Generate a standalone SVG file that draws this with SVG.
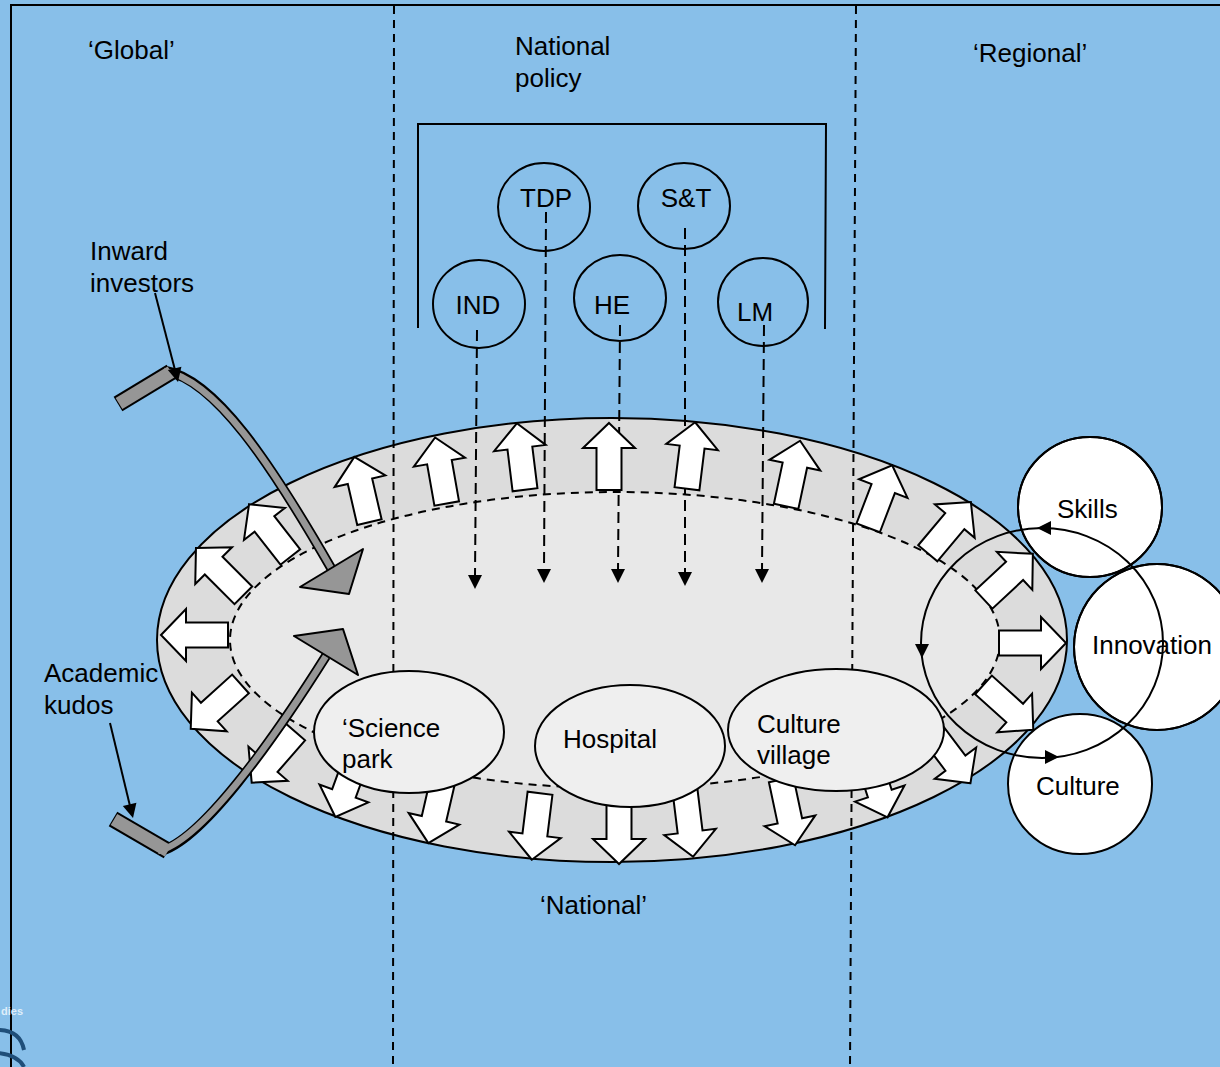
<svg xmlns="http://www.w3.org/2000/svg" xmlns:xlink="http://www.w3.org/1999/xlink" width="1220" height="1067" viewBox="0 0 1220 1067">
<style>
.t{font-family:"Liberation Sans",Arial,sans-serif;font-size:26px;fill:#000}
.ln{fill:none;stroke:#000;stroke-width:2}
.dsh{fill:none;stroke:#000;stroke-width:2;stroke-dasharray:8 6}
.pol{fill:none;stroke:#000;stroke-width:2;stroke-dasharray:11 6}
.blk{fill:#fff;stroke:#000;stroke-width:2;stroke-linejoin:miter}
.node{fill:#efefef;stroke:#000;stroke-width:2}
.wc{fill:#fff;stroke:#000;stroke-width:2}
.ah{fill:#000}
.gray{fill:#969696;stroke:#000;stroke-width:2;stroke-linejoin:round}
</style>
<defs>
<path id="blkarrow" d="M0,-34 L26,-9 L12.5,-9 L12.5,33 L-12.5,33 L-12.5,-9 L-26,-9 Z"/>
<path id="tri" d="M0,0 L-7,-14 L7,-14 Z"/>
</defs>
<rect x="0" y="0" width="1220" height="1067" fill="#88bfe9"/>
<path class="ln" d="M11,1067 L11,5 L1220,5"/>
<g id="watermark">
<text x="1" y="1015" style="font-family:'Liberation Sans',Arial,sans-serif;font-size:11px;font-weight:bold;fill:#dfeefa">dies</text>
<path d="M-2,1030 Q20,1030 24,1050" fill="none" stroke="#1f4e79" stroke-width="4"/>
<path d="M-2,1053 Q18,1055 24,1067" fill="none" stroke="#1f4e79" stroke-width="4"/>
</g>
<g id="ring">
<ellipse cx="612" cy="640" rx="455" ry="222" fill="#dcdcdc" stroke="#000" stroke-width="2"/>
<ellipse cx="615" cy="640" rx="385" ry="148" fill="#e8e8e8" stroke="#000" stroke-width="2" stroke-dasharray="8 6"/>
</g>
<g id="regions">
<line class="dsh" x1="394" y1="6" x2="393" y2="1067"/>
<line class="dsh" x1="856" y1="6" x2="850" y2="1067"/>
<path class="ln" d="M418,328 L418,124 L826,124 L825,329"/>
</g>
<g id="labels">
<text class="t" x="88" y="59">‘Global’</text>
<text class="t" x="515" y="55">National</text>
<text class="t" x="515" y="87">policy</text>
<text class="t" x="973" y="62">‘Regional’</text>
<text class="t" x="90" y="260">Inward</text>
<text class="t" x="90" y="292">investors</text>
<text class="t" x="44" y="682">Academic</text>
<text class="t" x="44" y="714">kudos</text>
<text class="t" x="540" y="914">‘National’</text>
</g>
<g id="policy-nodes">
<g id="TDP"><ellipse class="ln" cx="544" cy="207" rx="46" ry="44"/><text class="t" x="546" y="207" text-anchor="middle">TDP</text></g>
<g id="ST"><ellipse class="ln" cx="684" cy="206" rx="46" ry="43"/><text class="t" x="686" y="207" text-anchor="middle">S&amp;T</text></g>
<g id="IND"><ellipse class="ln" cx="479" cy="304" rx="46" ry="44"/><text class="t" x="478" y="314" text-anchor="middle">IND</text></g>
<g id="HE"><ellipse class="ln" cx="620" cy="298" rx="46" ry="43"/><text class="t" x="612" y="314" text-anchor="middle">HE</text></g>
<g id="LM"><ellipse class="ln" cx="763" cy="302" rx="45" ry="44"/><text class="t" x="755" y="321" text-anchor="middle">LM</text></g>
</g>
<g id="connectors">
<line class="pol" x1="477" y1="330" x2="475" y2="577"/>
<use href="#tri" class="ah" transform="translate(475,589)"/>
<line class="pol" x1="546" y1="212" x2="544" y2="571"/>
<use href="#tri" class="ah" transform="translate(544,583)"/>
<line class="pol" x1="620" y1="325" x2="618" y2="571"/>
<use href="#tri" class="ah" transform="translate(618,583)"/>
<line class="pol" x1="685" y1="228" x2="685" y2="574"/>
<use href="#tri" class="ah" transform="translate(685,586)"/>
<line class="pol" x1="764" y1="325" x2="762" y2="571"/>
<use href="#tri" class="ah" transform="translate(762,583)"/>
</g>
<g id="ring-arrows">
<use href="#blkarrow" class="blk" transform="translate(195,635) rotate(-90)"/>
<use href="#blkarrow" class="blk" transform="translate(216,706) rotate(-132)"/>
<use href="#blkarrow" class="blk" transform="translate(274,757) rotate(-139)"/>
<use href="#blkarrow" class="blk" transform="translate(347,785) rotate(-160)"/>
<use href="#blkarrow" class="blk" transform="translate(436,810) rotate(-167)"/>
<use href="#blkarrow" class="blk" transform="translate(536,826) rotate(-173)"/>
<use href="#blkarrow" class="blk" transform="translate(619,830) rotate(180)"/>
<use href="#blkarrow" class="blk" transform="translate(689,823) rotate(173)"/>
<use href="#blkarrow" class="blk" transform="translate(788,812) rotate(168)"/>
<use href="#blkarrow" class="blk" transform="translate(877,785) rotate(162)"/>
<use href="#blkarrow" class="blk" transform="translate(950,756) rotate(143)"/>
<use href="#blkarrow" class="blk" transform="translate(1008,707) rotate(132)"/>
<use href="#blkarrow" class="blk" transform="translate(1032,643) rotate(90)"/>
<use href="#blkarrow" class="blk" transform="translate(1008,577) rotate(47)"/>
<use href="#blkarrow" class="blk" transform="translate(949,528) rotate(40)"/>
<use href="#blkarrow" class="blk" transform="translate(880,497) rotate(21)"/>
<use href="#blkarrow" class="blk" transform="translate(793,474) rotate(12)"/>
<use href="#blkarrow" class="blk" transform="translate(691,456) rotate(7)"/>
<use href="#blkarrow" class="blk" transform="translate(609,457) rotate(0)"/>
<use href="#blkarrow" class="blk" transform="translate(521,457) rotate(-7)"/>
<use href="#blkarrow" class="blk" transform="translate(441,471) rotate(-10)"/>
<use href="#blkarrow" class="blk" transform="translate(362,490) rotate(-13)"/>
<use href="#blkarrow" class="blk" transform="translate(270,531) rotate(-38)"/>
<use href="#blkarrow" class="blk" transform="translate(220,572) rotate(-45)"/>
</g>
<g id="science-park"><ellipse class="node" cx="409" cy="732" rx="95" ry="61"/><text class="t" x="342" y="737">‘Science</text><text class="t" x="342" y="768">park</text></g>
<g id="hospital"><ellipse class="node" cx="630" cy="746" rx="95" ry="61"/><text class="t" x="563" y="748">Hospital</text></g>
<g id="culture-village"><ellipse class="node" cx="836" cy="730" rx="108" ry="61"/><text class="t" x="757" y="733">Culture</text><text class="t" x="757" y="764">village</text></g>
<g id="inward-investors-arrow">
<line x1="118" y1="404" x2="171" y2="372" stroke="#000" stroke-width="17"/>
<path d="M166,371 C215,380 270,462 331,568" fill="none" stroke="#000" stroke-width="10"/>
<line x1="119" y1="403.5" x2="171" y2="372" stroke="#969696" stroke-width="13"/>
<path d="M164,371 C215,380 270,462 331,568" fill="none" stroke="#969696" stroke-width="6.5"/>
<polygon class="gray" points="300,587 363,549 349,594"/>
<line class="ln" x1="155" y1="293" x2="175" y2="370"/>
<use href="#tri" class="ah" transform="translate(178,382) rotate(-14)"/>
</g>
<g id="academic-kudos-arrow">
<line x1="113" y1="819" x2="168" y2="851" stroke="#000" stroke-width="17"/>
<path d="M160,851 C200,842 270,745 326,656" fill="none" stroke="#000" stroke-width="10"/>
<line x1="114" y1="819.5" x2="168" y2="851" stroke="#969696" stroke-width="13"/>
<path d="M158,851 C200,842 270,745 326,656" fill="none" stroke="#969696" stroke-width="6.5"/>
<polygon class="gray" points="294,636 358,675 343,629"/>
<line class="ln" x1="110" y1="723" x2="130" y2="806"/>
<use href="#tri" class="ah" transform="translate(133,818) rotate(-14)"/>
</g>
<g id="regional-nodes">
<g id="innovation"><ellipse class="wc" cx="1157" cy="647" rx="83" ry="83"/></g>
<g id="skills"><ellipse class="wc" cx="1090" cy="507" rx="72" ry="70"/></g>
<g id="culture"><ellipse class="wc" cx="1080" cy="784" rx="72" ry="70"/></g>
<ellipse class="ln" cx="1157" cy="647" rx="83" ry="83"/>
<ellipse class="ln" cx="1090" cy="507" rx="72" ry="70"/>
<text class="t" x="1057" y="518">Skills</text>
<text class="t" x="1092" y="654">Innovation</text>
<text class="t" x="1036" y="795">Culture</text>
</g>
<g id="cycle">
<ellipse class="ln" cx="1042" cy="643" rx="121" ry="115"/>
<use href="#tri" class="ah" transform="translate(1037,528) rotate(90)"/>
<use href="#tri" class="ah" transform="translate(922,658)"/>
<use href="#tri" class="ah" transform="translate(1059,757) rotate(-90)"/>
</g>
</svg>
